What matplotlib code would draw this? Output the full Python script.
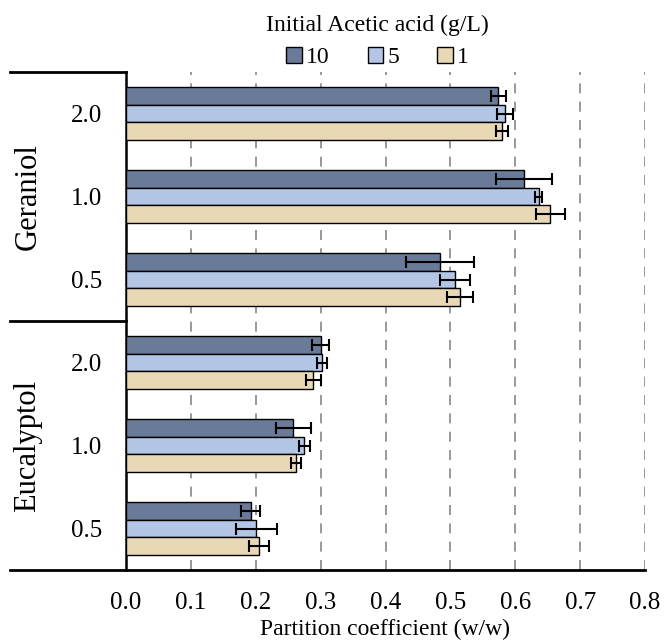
import matplotlib
matplotlib.use("Agg")
import matplotlib.pyplot as plt
import numpy as np

plt.rcParams['font.family'] = ['Liberation Serif', 'DejaVu Serif']

groups = ["Geraniol", "Eucalyptol"]
concs = ["2.0", "1.0", "0.5"]
series = ["10", "5", "1"]
colors = ["#6a7a99", "#b3c6e6", "#e9d8b5"]

# values ordered: Geraniol 2.0, 1.0, 0.5, Eucalyptol 2.0, 1.0, 0.5
vals_10 = [0.574, 0.613, 0.484, 0.300, 0.258, 0.192]
vals_5 = [0.584, 0.636, 0.507, 0.302, 0.275, 0.201]
vals_1 = [0.580, 0.654, 0.515, 0.289, 0.262, 0.205]
err_10 = [0.011, 0.043, 0.053, 0.013, 0.027, 0.015]
err_5 = [0.012, 0.006, 0.023, 0.008, 0.009, 0.031]
err_1 = [0.009, 0.022, 0.020, 0.011, 0.007, 0.015]

values = [vals_10, vals_5, vals_1]
errors = [err_10, err_5, err_1]

fig = plt.figure(figsize=(6.64, 6.42), dpi=100)
ax = fig.add_axes([126/664, 1-570/642, (645-126)/664, (570-72)/642])

n = len(vals_10)
pos = np.arange(n)
bh = 0.21
handles = []
for i, (v, e, c, s) in enumerate(zip(values, errors, colors, series)):
    y = pos + (i - 1) * bh
    h = ax.barh(y, v, height=bh, color=c, edgecolor="black", linewidth=1.0,
                label=s, zorder=3)
    ax.errorbar(v, y, xerr=e, fmt="none", ecolor="black", elinewidth=1.5,
                capsize=4, capthick=1.5, zorder=4)
    handles.append(h)

ax.set_ylim(n - 0.5, -0.5)
ax.set_xlim(0, 0.8)
ticks = np.arange(0, 0.81, 0.1)
ax.set_xticks(ticks)
ax.set_xticklabels([f"{t:.1f}" for t in ticks], fontsize=18)
ax.tick_params(axis="x", length=0, pad=16)
ax.set_yticks(pos)
ax.set_yticklabels(concs * 2, fontsize=18)
ax.tick_params(axis="y", length=0, pad=17)
ax.xaxis.grid(True, linestyle=(0, (6, 5)), color="#888888", linewidth=1.2, zorder=0)
ax.set_axisbelow(True)

for sp in ["top", "right"]:
    ax.spines[sp].set_visible(False)
ax.spines["left"].set_linewidth(1.8)
ax.spines["bottom"].set_visible(False)

# multi-level category frame
xl = (10 - 126) / (645 - 126)
ax.plot([xl, 1.0], [0, 0], transform=ax.transAxes, color="black", lw=2, clip_on=False, zorder=5)
ax.plot([xl, 0], [1, 1], transform=ax.transAxes, color="black", lw=2, clip_on=False, zorder=5)
ax.plot([xl, 0], [0.5, 0.5], transform=ax.transAxes, color="black", lw=2, clip_on=False, zorder=5)

xg = (28 - 126) / (645 - 126)
ax.text(xg, 0.75, groups[0], transform=ax.transAxes, rotation=90, ha="center",
        va="center", fontsize=22)
ax.text(xg, 0.25, groups[1], transform=ax.transAxes, rotation=90, ha="center",
        va="center", fontsize=22)

ax.set_xlabel("Partition coefficient (w/w)", fontsize=17, labelpad=3)

leg = ax.legend(handles=handles, title="Initial Acetic acid (g/L)", ncol=3,
                loc="lower center", bbox_to_anchor=(0.485, 1.0), frameon=False,
                fontsize=17, title_fontsize=17, handlelength=0.65, handleheight=0.65,
                columnspacing=1.6, handletextpad=0.2, borderaxespad=0.0,
                borderpad=0.15)
leg._legend_box.sep = 8

fig.savefig("out.png", dpi=100)
